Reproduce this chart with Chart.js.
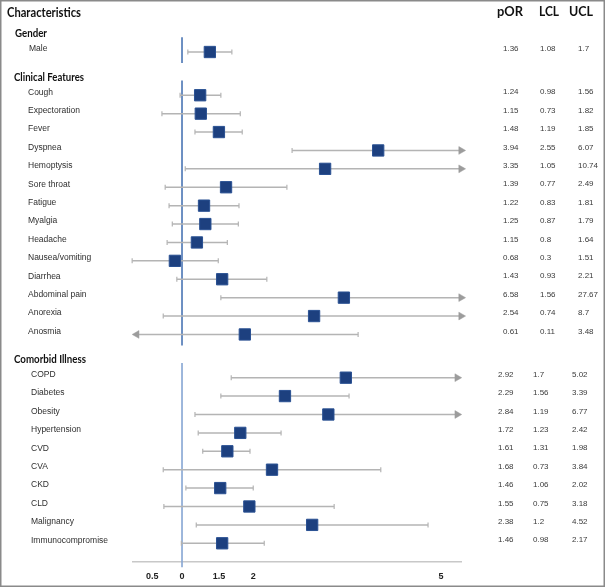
<!DOCTYPE html>
<html>
<head>
<meta charset="utf-8">
<script src="https://cdn.jsdelivr.net/npm/chart.js@4.4.1/dist/chart.umd.min.js"></script>
<style>
  html, body { margin: 0; padding: 0; background: #fff; }
  #wrap { width: 605px; height: 587px; }
</style>
</head>
<body>
<div id="wrap"><canvas id="forest" width="605" height="587"></canvas></div>
<script>
// Forest plot: pooled OR per characteristic, with the table on the right
const groupNames = ['Gender', 'Clinical Features', 'Comorbid Illness'];
const groupSizes = [1, 14, 10];
const rowLabels = ['Male',
	'Cough', 'Expectoration', 'Fever', 'Dyspnea', 'Hemoptysis', 'Sore throat', 'Fatigue',
	'Myalgia', 'Headache', 'Nausea/vomiting', 'Diarrhea', 'Abdominal pain', 'Anorexia', 'Anosmia',
	'COPD', 'Diabetes', 'Obesity', 'Hypertension', 'CVD', 'CVA', 'CKD', 'CLD', 'Malignancy', 'Immunocompromise'];

// where the marks sit on the drawn axis
const plotOR = [1.43,
	1.28, 1.29, 1.57, 4.03, 3.21, 1.68, 1.34, 1.36, 1.23, 0.89, 1.62, 3.50, 3.04, 1.97,
	3.53, 2.59, 3.26, 1.90, 1.70, 2.39, 1.59, 2.04, 3.01, 1.62];
const plotLow = [1.09,
	0.97, 0.69, 1.20, 2.70, 1.05, 0.74, 0.80, 0.85, 0.77, 0.23, 0.92, 1.60, 0.71, 0.30,
	1.76, 1.60, 1.20, 1.25, 1.32, 0.71, 1.06, 0.72, 1.22, 0.99];
const plotHigh = [1.77,
	1.60, 1.90, 1.93, 5.31, 5.31, 2.62, 1.88, 1.87, 1.70, 1.56, 2.31, 5.31, 5.31, 3.72,
	5.25, 3.58, 5.25, 2.53, 2.05, 4.07, 2.10, 3.35, 4.80, 2.27];
const arrowLow = [false,
	false, false, false, false, false, false, false, false, false, false, false, false, false, true,
	false, false, false, false, false, false, false, false, false, false];
const arrowHigh = [false,
	false, false, false, true, true, false, false, false, false, false, false, true, true, false,
	true, false, true, false, false, false, false, false, false, false];

// table columns, kept as text so "1.7" stays "1.7"
const tableHeaders = ['pOR', 'LCL', 'UCL'];
const tablePOR = ['1.36',
	'1.24', '1.15', '1.48', '3.94', '3.35', '1.39', '1.22', '1.25', '1.15', '0.68', '1.43', '6.58', '2.54', '0.61',
	'2.92', '2.29', '2.84', '1.72', '1.61', '1.68', '1.46', '1.55', '2.38', '1.46'];
const tableLCL = ['1.08',
	'0.98', '0.73', '1.19', '2.55', '1.05', '0.77', '0.83', '0.87', '0.8', '0.3', '0.93', '1.56', '0.74', '0.11',
	'1.7', '1.56', '1.19', '1.23', '1.31', '0.73', '1.06', '0.75', '1.2', '0.98'];
const tableUCL = ['1.7',
	'1.56', '1.82', '1.85', '6.07', '10.74', '2.49', '1.81', '1.79', '1.64', '1.51', '2.21', '27.67', '8.7', '3.48',
	'5.02', '3.39', '6.77', '2.42', '1.98', '3.84', '2.02', '3.18', '4.52', '2.17'];

const tickValues = [0.54, 1, 1.57, 2.1, 5];
const tickLabels = ['0.5', '0', '1.5', '2', '5'];
const refValue = 1;

const NAVY = '#1d407f';
const WHISKER = '#b4b4b4';
const ARROW = '#9c9c9c';
const REF_COLORS = ['#4a75b4', '#4a75b4', '#86a6d3'];
const SANS = '"Liberation Sans", Arial, sans-serif';
const HEAD = 'Lato, "Liberation Sans", Arial, sans-serif';

// row layout: a header row per group, then its items, with a small gap between groups
const ROW_GAP = 0.35;
const headerPos = [];
const rowPos = [];
const rowGroup = [];
let pos = 0;
groupSizes.forEach((n, g) => {
	headerPos.push(pos);
	pos += 1;
	for (let i = 0; i < n; i++) {
		rowPos.push(pos);
		rowGroup.push(g);
		pos += 1;
	}
	pos += ROW_GAP;
});

const Y_MIN = -0.957;
const Y_MAX = 28.717;

const datasets = [];

// squares
datasets.push({
	label: 'pOR',
	data: rowPos.map((y, i) => ({ x: plotOR[i], y })),
	pointStyle: 'rect',
	pointRadius: 8,
	pointHoverRadius: 8,
	backgroundColor: NAVY,
	borderColor: '#2a5193',
	borderWidth: 1,
	showLine: false,
	order: 0,
	clip: false
});

// whiskers, capped or with an arrow when cut off
rowPos.forEach((y, i) => {
	datasets.push({
		label: rowLabels[i],
		data: [{ x: plotLow[i], y }, { x: plotHigh[i], y }],
		showLine: true,
		borderColor: WHISKER,
		borderWidth: 1.5,
		pointStyle: [arrowLow[i] ? 'triangle' : 'line', arrowHigh[i] ? 'triangle' : 'line'],
		rotation: [arrowLow[i] ? -90 : 90, 90],
		pointRadius: [arrowLow[i] ? 4.5 : 2.5, arrowHigh[i] ? 4.5 : 2.5],
		pointHoverRadius: 0,
		pointBackgroundColor: ARROW,
		pointBorderColor: [arrowLow[i] ? ARROW : WHISKER, arrowHigh[i] ? ARROW : WHISKER],
		pointBorderWidth: [arrowLow[i] ? 0.5 : 1.2, arrowHigh[i] ? 0.5 : 1.2],
		order: 1,
		clip: false
	});
});

// vertical reference line, one segment per group
let start = 0;
groupSizes.forEach((n, g) => {
	const last = rowPos[start + n - 1];
	const top = headerPos[g] + 0.2;
	const bottom = g === groupSizes.length - 1 ? Y_MAX + 0.28 : last + 0.6;
	datasets.push({
		label: 'ref ' + groupNames[g],
		data: [{ x: refValue, y: top }, { x: refValue, y: bottom }],
		showLine: true,
		borderColor: REF_COLORS[g],
		borderWidth: 1.6,
		pointRadius: 0,
		order: 2,
		clip: false
	});
	start += n;
});

// labels, group headers and the value table, placed with the y scale
const textPlugin = {
	id: 'forestText',
	afterDraw(chart) {
		const ctx = chart.ctx;
		const ys = chart.scales.y;
		ctx.save();

		ctx.strokeStyle = '#8a8a8a';
		ctx.lineWidth = 1.5;
		ctx.strokeRect(0.75, 0.75, 603.5, 585.5);

		ctx.textBaseline = 'middle';
		ctx.textAlign = 'left';
		ctx.fillStyle = '#111';
		ctx.font = 'bold 14px ' + HEAD;
		ctx.fillText('Characteristics', 7, 12, 74);
		ctx.font = 'bold 13px ' + HEAD;
		const headX = [497, 539, 569];
		const headW = [26, 20, 24];
		tableHeaders.forEach((h, i) => ctx.fillText(h, headX[i], 12, headW[i]));

		ctx.font = 'bold 11.5px ' + HEAD;
		const groupW = [32, 70, 72];
		groupNames.forEach((name, g) => {
			ctx.fillText(name, g === 0 ? 15 : 14, ys.getPixelForValue(headerPos[g]), groupW[g]);
		});

		rowPos.forEach((p, i) => {
			const y = ys.getPixelForValue(p) - 3;
			const g = rowGroup[i];
			ctx.fillStyle = '#2e2e2e';
			ctx.font = '8.5px ' + SANS;
			ctx.fillText(rowLabels[i], g === 2 ? 31 : (g === 0 ? 29 : 28), y);
			ctx.fillStyle = '#3a3a3a';
			ctx.font = '8px ' + SANS;
			const cols = g === 2 ? [498, 533, 572] : [503, 540, 578];
			ctx.fillText(tablePOR[i], cols[0], y);
			ctx.fillText(tableLCL[i], cols[1], y);
			ctx.fillText(tableUCL[i], cols[2], y);
		});
		ctx.restore();
	}
};

new Chart(document.getElementById('forest'), {
	type: 'scatter',
	data: { datasets },
	options: {
		responsive: false,
		animation: false,
		devicePixelRatio: 1,
		layout: { padding: { left: 133, right: 144, top: 16, bottom: 3 } },
		plugins: {
			legend: { display: false },
			tooltip: { enabled: false }
		},
		scales: {
			x: {
				type: 'linear',
				min: 0.243,
				max: 5.309,
				grid: { display: false, drawTicks: false },
				border: { display: true, color: '#c8c8c8', width: 1.5 },
				afterBuildTicks: (scale) => {
					scale.ticks = tickValues.map(v => ({ value: v }));
				},
				afterFit: (scale) => {
					scale.height = 22;
				},
				ticks: {
					autoSkip: false,
					maxRotation: 0,
					padding: 9,
					color: '#222',
					font: { family: SANS, size: 9, weight: 'bold' },
					callback: (value, index) => tickLabels[index]
				}
			},
			y: {
				type: 'linear',
				display: false,
				reverse: true,
				min: Y_MIN,
				max: Y_MAX
			}
		}
	},
	plugins: [textPlugin]
});
</script>
</body>
</html>
